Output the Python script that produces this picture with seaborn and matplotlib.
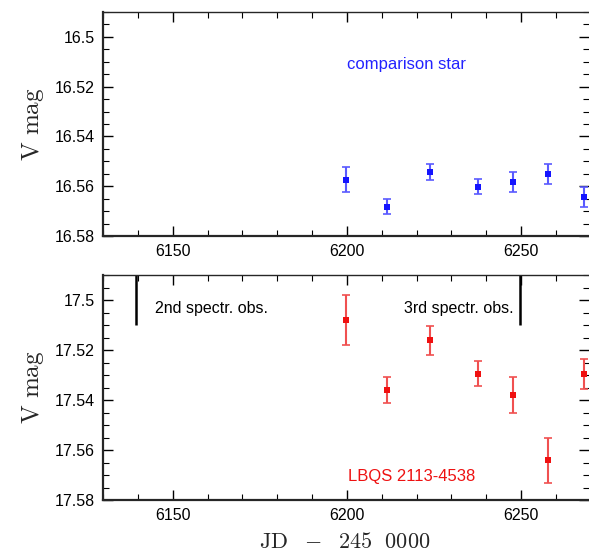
import numpy as np
import pandas as pd
import matplotlib
matplotlib.use("Agg")
import matplotlib.pyplot as plt
import seaborn as sns
from matplotlib.ticker import MultipleLocator

# ---- data ----
comp_jd = [6199.7, 6211.6, 6223.9, 6237.6, 6247.6, 6257.7, 6268.0]
comp_mag = [16.5573, 16.5682, 16.5542, 16.5602, 16.5582, 16.5550, 16.5642]
comp_err = [0.0052, 0.0030, 0.0031, 0.0031, 0.0041, 0.0041, 0.0040]

qso_jd = [6199.7, 6211.6, 6223.9, 6237.6, 6247.6, 6257.7, 6268.0]
qso_mag = [17.5079, 17.5359, 17.5161, 17.5295, 17.5379, 17.5641, 17.5295]
qso_err = [0.0100, 0.0051, 0.0059, 0.0050, 0.0071, 0.0090, 0.0060]

spec_obs_jd = [6139.5, 6249.8]
spec_obs_labels = ["2nd spectr. obs.", "3rd spectr. obs."]

xlim = (6130.0, 6269.5)
top_ylim = (16.58, 16.49)
bot_ylim = (17.58, 17.49)
top_yticks = [16.5, 16.52, 16.54, 16.56, 16.58]
bot_yticks = [17.5, 17.52, 17.54, 17.56, 17.58]
xticks = [6150, 6200, 6250]

sns.set_theme(style="ticks")
plt.rcParams['font.family'] = ['Liberation Sans', 'DejaVu Sans']
plt.rcParams['mathtext.fontset'] = 'cm'

fig = plt.figure(figsize=(5.89, 5.53), dpi=100)
W, H = 589, 553
ax1 = fig.add_axes([103 / W, 1 - 236 / H, 1 - 103 / W, (236 - 12) / H])
ax2 = fig.add_axes([103 / W, 1 - 500 / H, 1 - 103 / W, (500 - 275) / H])

comp_df = pd.DataFrame({"jd": comp_jd, "mag": comp_mag, "err": comp_err})
qso_df = pd.DataFrame({"jd": qso_jd, "mag": qso_mag, "err": qso_err})


def panel(ax, df, color, ecolor, ylim, yticks, ylabels):
    ax.errorbar(df["jd"], df["mag"], yerr=df["err"], fmt="none", ecolor=ecolor,
                elinewidth=1.5, capsize=3, capthick=1.2, clip_on=False, zorder=2)
    sns.scatterplot(data=df, x="jd", y="mag", ax=ax, marker="s", s=16, color=color,
                    edgecolor=color, linewidth=0, zorder=3, clip_on=False)
    ax.set_xlim(*xlim)
    ax.set_ylim(*ylim)
    ax.set_yticks(yticks)
    ax.set_yticklabels(ylabels)
    ax.set_xticks(xticks)
    ax.xaxis.set_minor_locator(MultipleLocator(10))
    ax.yaxis.set_minor_locator(MultipleLocator(0.005))
    ax.tick_params(which="both", direction="in", top=True, right=True,
                   labelsize=11.5, colors="black", pad=6)
    ax.tick_params(which="major", length=7, width=1.0)
    ax.tick_params(which="minor", length=4, width=0.8)
    ax.spines["right"].set_visible(False)
    ax.spines["left"].set_linewidth(1.6)
    ax.spines["bottom"].set_linewidth(1.6)
    ax.spines["top"].set_linewidth(1.0)
    ax.set_xlabel("")
    ax.set_ylabel(r"$\mathrm{V\ mag}$", fontsize=18, labelpad=6)


panel(ax1, comp_df, "#1414ff", "#5a5aff", top_ylim, top_yticks,
      ["16.5", "16.52", "16.54", "16.56", "16.58"])
panel(ax2, qso_df, "#f01010", "#f05050", bot_ylim, bot_yticks,
      ["17.5", "17.52", "17.54", "17.56", "17.58"])

ax1.text(6200, 16.511, "comparison star", color="#2222ff", fontsize=12,
         ha="left", va="center")
ax2.text(6218.7, 17.5708, "LBQS 2113-4538", color="#ee1111", fontsize=12,
         ha="center", va="center")

for jd in spec_obs_jd:
    ax2.plot([jd, jd], [17.49, 17.51], color="black", lw=1.8, solid_capstyle="butt")
ax2.text(6145, 17.5035, spec_obs_labels[0], color="black", fontsize=11.5,
         ha="left", va="center")
ax2.text(6248, 17.5035, spec_obs_labels[1], color="black", fontsize=11.5,
         ha="right", va="center")

fig.text(345 / W, 1 - 543 / H, r"$\mathrm{JD\ \ -\ \ 245\ \ 0000}$", fontsize=16,
         ha="center", va="center")

fig.savefig("out.png", dpi=100)
